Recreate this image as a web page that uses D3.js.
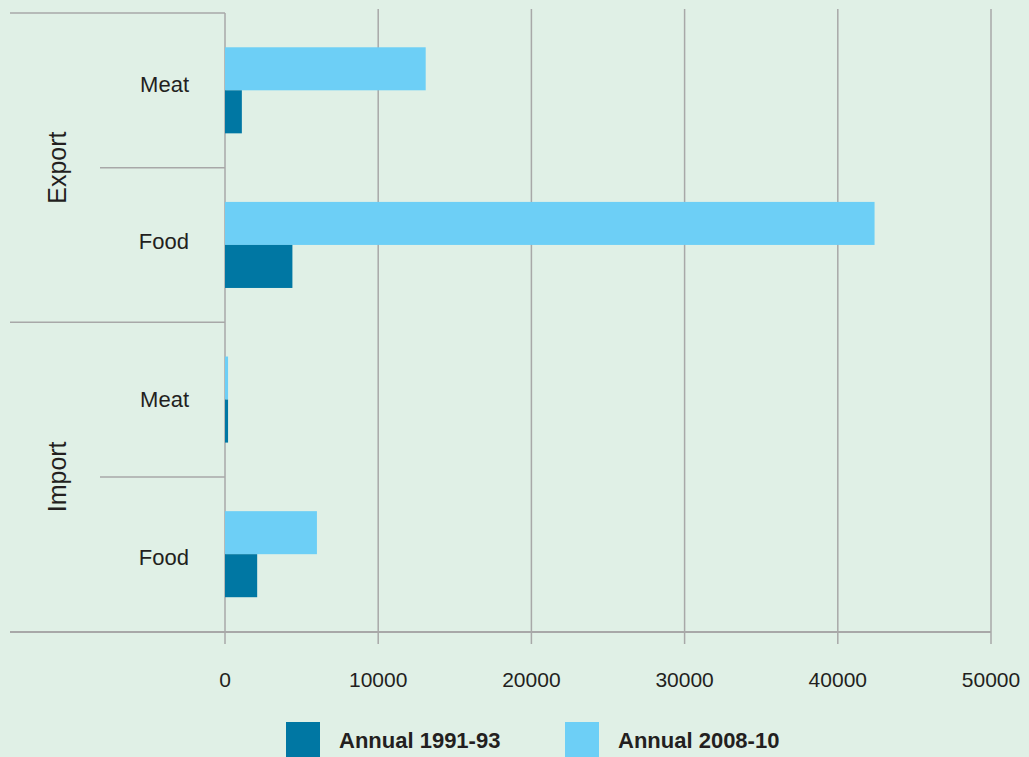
<!DOCTYPE html>
<html>
<head>
<meta charset="utf-8">
<script src="https://cdn.jsdelivr.net/npm/d3@7"></script>
<style>
  html, body { margin: 0; padding: 0; background: #e0f0e6; }
  svg { display: block; }
  text { font-family: "Liberation Sans", Arial, sans-serif; fill: #231f20; }
</style>
</head>
<body>
<svg id="chart" width="1029" height="757"></svg>
<script>
// Trade groups and the product rows inside each group (top to bottom)
const groups = ["Export", "Import"];
const products = ["Meat", "Food"];
const rows = ["Export|Meat", "Export|Food", "Import|Meat", "Import|Food"];

// Series, drawn top to bottom within each row
const series = ["Annual 2008-10", "Annual 1991-93"];
const values2008 = [13100, 42400, 200, 6000];
const values1991 = [1100, 4400, 200, 2100];

const xTicks = [0, 10000, 20000, 30000, 40000, 50000];
const legendOrder = ["Annual 1991-93", "Annual 2008-10"];

const colors = { "Annual 2008-10": "#6dcff6", "Annual 1991-93": "#0077a3" };
const lineColor = "#a8a8a8";

const svg = d3.select("#chart");
const W = 1029, H = 757;
svg.append("rect").attr("width", W).attr("height", H).attr("fill", "#e0f0e6");

const x = d3.scaleLinear().domain([0, 50000]).range([225, 991]);
const y0 = d3.scaleBand().domain(rows).range([13, 631.5]).paddingInner(0).paddingOuter(0);
const y1 = d3.scaleBand().domain(series).range([0, y0.bandwidth()]).paddingInner(0).paddingOuter(0.797);
// Row label anchors
const yLabel = d3.scalePoint().domain(rows).range([84, 557]);

const valueOf = {
  "Annual 2008-10": values2008,
  "Annual 1991-93": values1991
};

// Vertical gridlines (with tick marks below the axis)
svg.append("g").selectAll("line").data(xTicks).join("line")
  .attr("x1", d => x(d)).attr("x2", d => x(d))
  .attr("y1", d => d === 0 ? 13 : 9).attr("y2", 644)
  .attr("stroke", lineColor).attr("stroke-width", 1.5);

// Bottom axis line
svg.append("line").attr("x1", 10).attr("x2", x(50000))
  .attr("y1", 632).attr("y2", 632)
  .attr("stroke", lineColor).attr("stroke-width", 2);

// Category axis dividers: group borders span the full label area, product borders are shorter
svg.append("line").attr("x1", 10).attr("x2", 225).attr("y1", 13).attr("y2", 13)
  .attr("stroke", lineColor).attr("stroke-width", 1.5);
svg.append("line").attr("x1", 10).attr("x2", 225)
  .attr("y1", y0("Import|Meat")).attr("y2", y0("Import|Meat"))
  .attr("stroke", lineColor).attr("stroke-width", 1.5);
groups.forEach(g => {
  const yy = y0(g + "|Food");
  svg.append("line").attr("x1", 100).attr("x2", 225).attr("y1", yy).attr("y2", yy)
    .attr("stroke", lineColor).attr("stroke-width", 1.5);
});

// Bars
rows.forEach((r, i) => {
  series.forEach(s => {
    const v = valueOf[s][i];
    svg.append("rect")
      .attr("x", x(0))
      .attr("y", y0(r) + y1(s))
      .attr("width", x(v) - x(0))
      .attr("height", y1.bandwidth())
      .attr("fill", colors[s]);
  });
});

// Product labels
svg.append("g").selectAll("text").data(rows).join("text")
  .attr("x", 189)
  .attr("y", r => yLabel(r))
  .attr("dy", "0.35em")
  .attr("text-anchor", "end")
  .attr("font-size", 22)
  .text(r => r.split("|")[1]);

// Group labels, rotated
groups.forEach(g => {
  const cy = y0(g + "|Food");
  svg.append("text")
    .attr("transform", `translate(57,${cy}) rotate(-90)`)
    .attr("text-anchor", "middle")
    .attr("dy", "0.35em")
    .attr("font-size", 25)
    .text(g);
});

// X tick labels
svg.append("g").selectAll("text").data(xTicks).join("text")
  .attr("x", d => x(d))
  .attr("y", 687)
  .attr("text-anchor", "middle")
  .attr("font-size", 21)
  .text(d => d);

// Legend
const legendX = { "Annual 1991-93": 286, "Annual 2008-10": 565 };
legendOrder.forEach(s => {
  svg.append("rect").attr("x", legendX[s]).attr("y", 722)
    .attr("width", 34).attr("height", 35).attr("fill", colors[s]);
  svg.append("text").attr("x", legendX[s] + 53).attr("y", 748)
    .attr("font-size", 22).attr("font-weight", "bold")
    .text(s);
});
</script>
</body>
</html>
